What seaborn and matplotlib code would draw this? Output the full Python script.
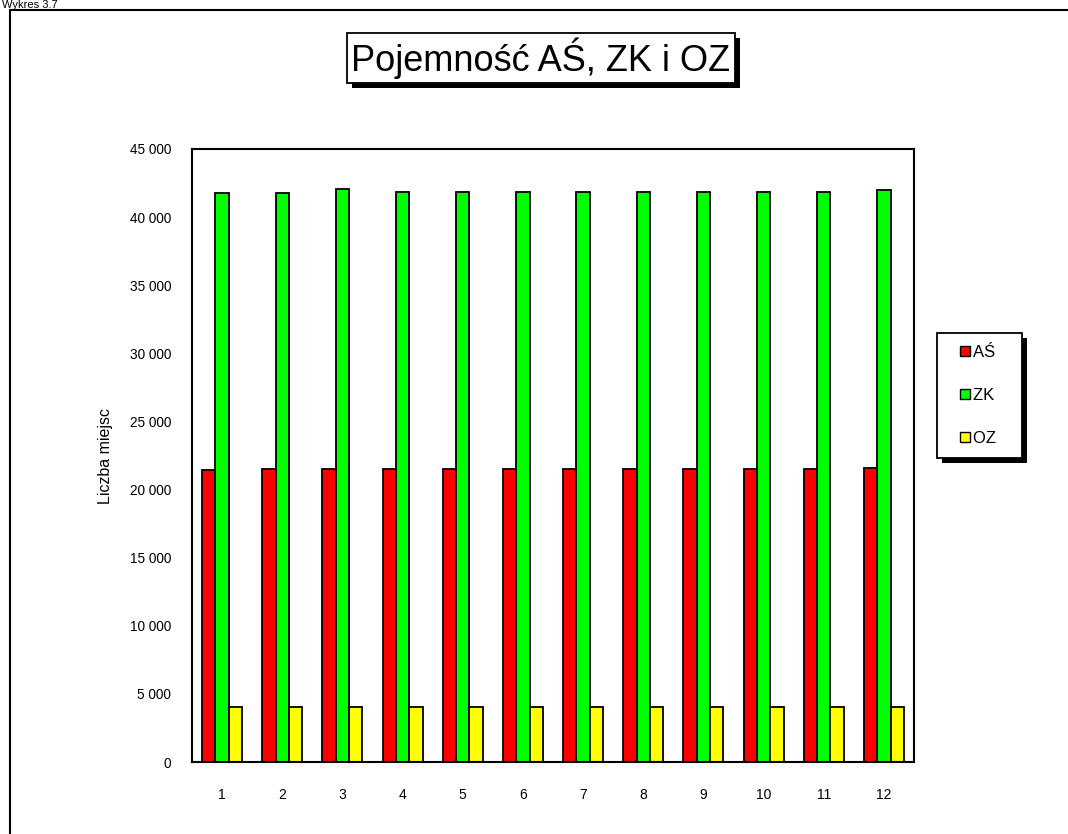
import pandas as pd
import numpy as np
import matplotlib.pyplot as plt
import matplotlib.patches as mpatches
import matplotlib.patheffects as pe
from matplotlib.lines import Line2D
from matplotlib.ticker import FuncFormatter, FixedLocator
import seaborn as sns

months = [str(i) for i in range(1, 13)]
series = ["AŚ", "ZK", "OZ"]
as_vals = [21400, 21500, 21500, 21520, 21520, 21520, 21520, 21520, 21520, 21520, 21520, 21600]
zk_vals = [41760, 41780, 42090, 41850, 41850, 41870, 41860, 41870, 41870, 41870, 41880, 42020]
oz_vals = [4050, 4050, 4060, 4050, 4050, 4030, 4030, 4030, 4030, 4030, 4050, 4050]
colors = ["#FF0000", "#00FF00", "#FFFF00"]

df = pd.DataFrame({
    "miesiac": months * 3,
    "seria": [s for s in series for _ in months],
    "wartosc": as_vals + zk_vals + oz_vals,
})

sns.set_style("white")
plt.rcParams['font.family'] = ['Liberation Sans', 'DejaVu Sans']
plt.rcParams['text.color'] = 'black'
plt.rcParams['axes.labelcolor'] = 'black'
plt.rcParams['xtick.color'] = 'black'
plt.rcParams['ytick.color'] = 'black'

fig = plt.figure(figsize=(10.68, 8.34), dpi=100)
ax = fig.add_axes([192 / 1068, 1 - 762 / 834, 722 / 1068, 613 / 834])

sns.barplot(data=df, x="miesiac", y="wartosc", hue="seria", palette=colors,
            order=months, hue_order=series, width=0.665, saturation=1,
            edgecolor="black", linewidth=1.3, ax=ax, legend=False)

ax.set_xlim(-0.5, 11.5)
ax.set_ylim(0, 45000)
ax.set_yticks(np.arange(0, 45001, 5000))
ax.yaxis.set_major_formatter(FuncFormatter(lambda v, p: f"{int(v):,}".replace(",", " ")))
ax.xaxis.set_minor_locator(FixedLocator(np.arange(-0.5, 12, 1)))
ax.tick_params(axis="x", which="major", length=0, pad=19, labelsize=10)
ax.tick_params(axis="x", which="minor", length=5, width=1.5, direction="out")
ax.tick_params(axis="y", length=5, width=1.5, direction="out", labelsize=9.8, pad=10)
ax.set_xlabel("")
ax.set_ylabel("Liczba miejsc", fontsize=11.5, labelpad=12)
for sp in ax.spines.values():
    sp.set_color("black")
    sp.set_linewidth(1.5)

# outer chart frame
frame = mpatches.Rectangle((10 / 1068, -0.1), 1.2, 1.1 - 10 / 834, transform=fig.transFigure,
                           fill=False, edgecolor="black", linewidth=1.5)
fig.patches.append(frame)

fig.text(0.002, 1.0, "Wykres 3.7", fontsize=8, va="top", ha="left")

title = fig.text(541 / 1068, 1 - 58 / 834, "Pojemność AŚ, ZK i OZ", fontsize=26,
                 ha="center", va="center",
                 bbox=dict(boxstyle="square,pad=0.12", facecolor="white", edgecolor="black", linewidth=1.3))
title.get_bbox_patch().set_path_effects([
    pe.SimplePatchShadow(offset=(3.5, -3.5), shadow_rgbFace="black", alpha=1), pe.Normal()])

handles = [Line2D([], [], linestyle="none", marker="s", markersize=7, markerfacecolor=c,
                  markeredgecolor="black", markeredgewidth=1) for c in colors]
leg = fig.legend(handles, [s + "   " for s in series], loc="upper left",
                 bbox_to_anchor=(937 / 1068, 1 - 333 / 834),
                 frameon=True, fancybox=False, edgecolor="black", facecolor="white", framealpha=1,
                 fontsize=12, handlelength=1.9, handletextpad=-0.45,
                 labelspacing=1.68, borderpad=0.72, borderaxespad=0)
leg.get_frame().set_linewidth(1.3)
leg.get_frame().set_path_effects([
    pe.SimplePatchShadow(offset=(3.5, -3.5), shadow_rgbFace="black", alpha=1), pe.Normal()])

fig.savefig("out.png", dpi=100)
